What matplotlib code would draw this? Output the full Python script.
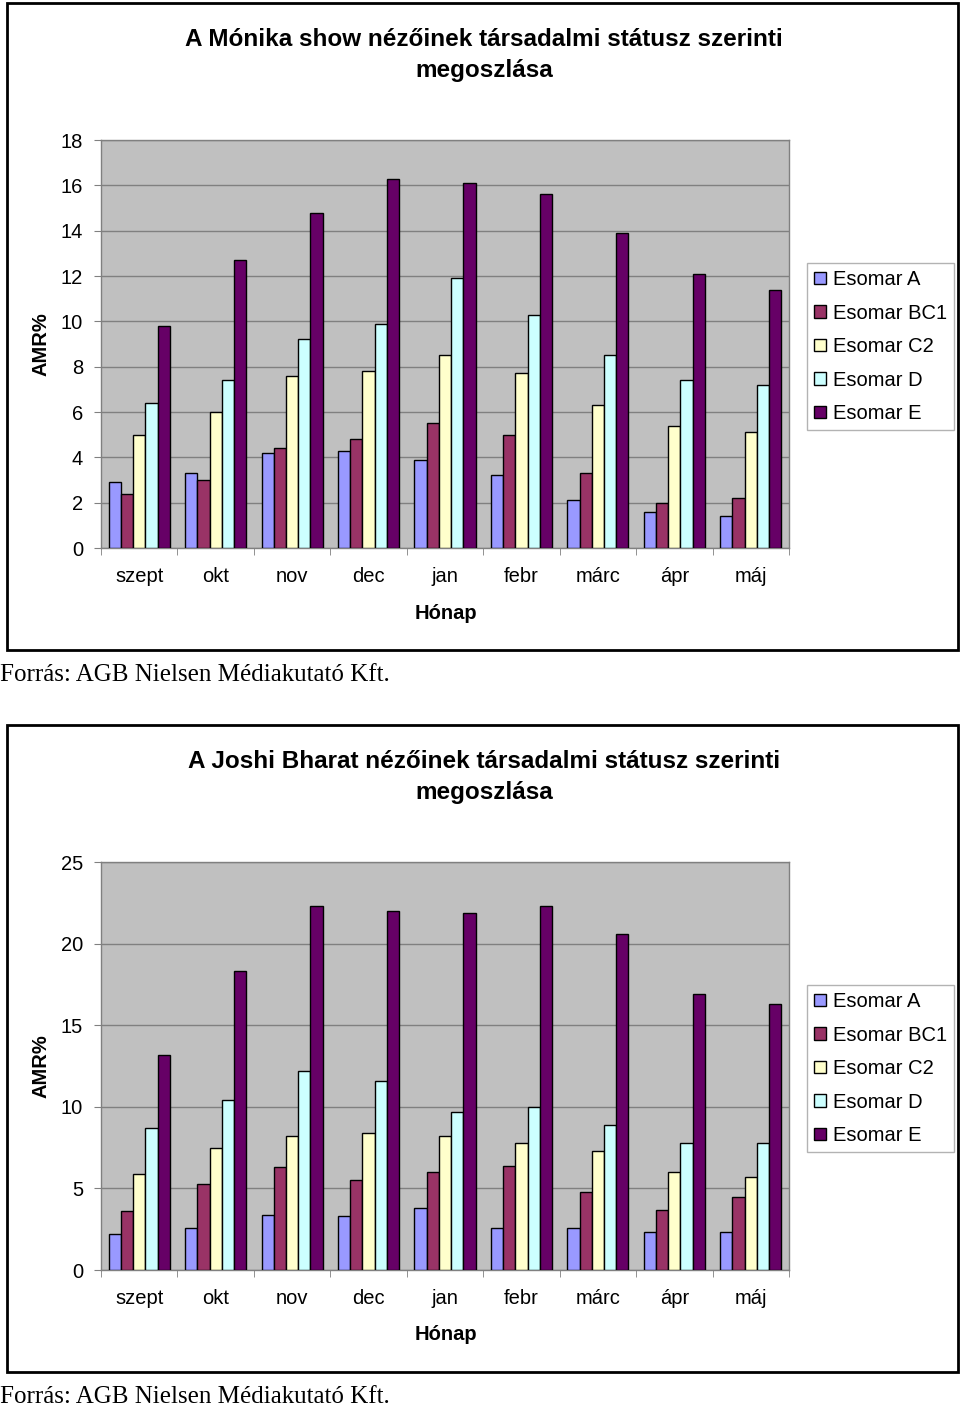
import matplotlib
matplotlib.use("Agg")
import matplotlib.pyplot as plt
import numpy as np
from matplotlib.patches import Rectangle

W, H = 960, 1407

months = ["szept", "okt", "nov", "dec", "jan", "febr", "márc", "ápr", "máj"]
groups = ["Esomar A", "Esomar BC1", "Esomar C2", "Esomar D", "Esomar E"]
colors = ["#9999FF", "#993366", "#FFFFCC", "#CCFFFF", "#660066"]

# A Mónika show
monika_a = [2.9, 3.3, 4.2, 4.3, 3.9, 3.2, 2.1, 1.6, 1.4]
monika_bc1 = [2.4, 3.0, 4.4, 4.8, 5.5, 5.0, 3.3, 2.0, 2.2]
monika_c2 = [5.0, 6.0, 7.6, 7.8, 8.5, 7.7, 6.3, 5.4, 5.1]
monika_d = [6.4, 7.4, 9.2, 9.9, 11.9, 10.3, 8.5, 7.4, 7.2]
monika_e = [9.8, 12.7, 14.8, 16.3, 16.1, 15.6, 13.9, 12.1, 11.4]

# Joshi Bharat
joshi_a = [2.2, 2.6, 3.4, 3.3, 3.8, 2.6, 2.6, 2.3, 2.3]
joshi_bc1 = [3.6, 5.3, 6.3, 5.5, 6.0, 6.4, 4.8, 3.7, 4.5]
joshi_c2 = [5.9, 7.5, 8.2, 8.4, 8.2, 7.8, 7.3, 6.0, 5.7]
joshi_d = [8.7, 10.4, 12.2, 11.6, 9.7, 10.0, 8.9, 7.8, 7.8]
joshi_e = [13.2, 18.3, 22.3, 22.0, 21.9, 22.3, 20.6, 16.9, 16.3]

title1 = "A Mónika show nézőinek társadalmi státusz szerinti\nmegoszlása"
title2 = "A Joshi Bharat nézőinek társadalmi státusz szerinti\nmegoszlása"
source = "Forrás: AGB Nielsen Médiakutató Kft."

plt.rcParams["font.family"] = ["Liberation Sans", "DejaVu Sans"]

fig = plt.figure(figsize=(W / 100, H / 100), dpi=100)


def fx(px):
    return px / W


def fy(py):
    return 1 - py / H


def chart(top, series, ymax, ystep, title):
    # outer frame
    fig.patches.append(Rectangle((fx(7), fy(top + 647)), fx(951), 647 / H,
                                 transform=fig.transFigure, fill=False,
                                 edgecolor="black", linewidth=2))
    fig.text(fx(484), fy(top + 52), title, ha="center", va="center",
             fontsize=17.5, fontweight="bold", linespacing=1.45)

    ax = fig.add_axes([fx(101), fy(top + 545), fx(688), 408 / H])
    ax.set_facecolor("#C0C0C0")
    x = np.arange(len(months))
    w = 0.16
    bars = []
    for i, vals in enumerate(series):
        b = ax.bar(x + (i - 2) * w, vals, w, color=colors[i],
                   edgecolor="black", linewidth=1, label=groups[i], zorder=3)
        bars.append(b)
    ax.set_xlim(-0.5, len(months) - 0.5)
    ax.set_ylim(0, ymax)
    ax.set_yticks(np.arange(0, ymax + 0.1, ystep))
    ax.yaxis.grid(True, color="#808080", linewidth=1, zorder=0)
    ax.set_axisbelow(True)
    ax.set_xticks(x)
    ax.set_xticklabels(months)
    ax.set_xticks(np.arange(-0.5, len(months)), minor=True)
    ax.tick_params(axis="x", which="major", length=0, pad=14, labelsize=14.5)
    ax.tick_params(axis="x", which="minor", length=5, color="#808080")
    ax.tick_params(axis="y", length=5, color="#808080", pad=8, labelsize=14.5)
    for s in ax.spines.values():
        s.set_color("#808080")
        s.set_linewidth(1)
    fig.text(fx(446), fy(top + 610), "Hónap", ha="center", va="center",
             fontsize=14.5, fontweight="bold")
    fig.text(fx(41), fy(top + 341), "AMR%", ha="center", va="center",
             rotation=90, fontsize=14.5, fontweight="bold")

    leg = ax.legend(handles=bars, loc="upper left",
                    bbox_to_anchor=(fx(807), fy(top + 260)),
                    bbox_transform=fig.transFigure, fontsize=14.5,
                    frameon=True, fancybox=False, edgecolor="#A0A0A0",
                    handlelength=0.6, handleheight=0.6, handletextpad=0.35,
                    labelspacing=0.72, borderpad=0.35, borderaxespad=0)
    leg.get_frame().set_linewidth(1)

    fig.text(0, fy(top + 672), source, ha="left", va="center",
             fontsize=18, family=["Liberation Serif", "DejaVu Serif"])


chart(3, [monika_a, monika_bc1, monika_c2, monika_d, monika_e], 18, 2, title1)
chart(725, [joshi_a, joshi_bc1, joshi_c2, joshi_d, joshi_e], 25, 5, title2)

fig.savefig("out.png", dpi=100)
